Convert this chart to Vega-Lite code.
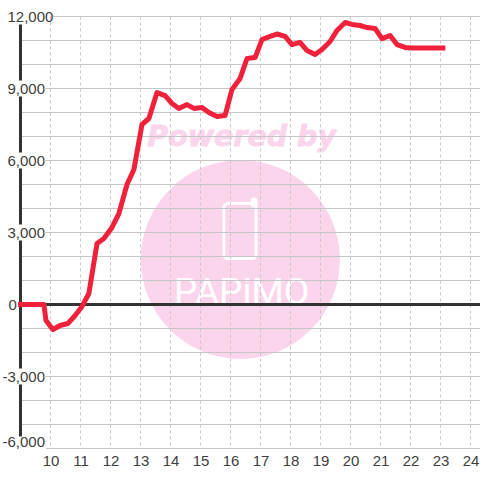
{"$schema":"https://vega.github.io/schema/vega-lite/v6.json","width":460,"height":432,"autosize":"none","padding":{"left":20.5,"top":16.5,"right":0,"bottom":31},"background":"white","config":{"view":{"stroke":null},"axis":{"labelOverlap":false}},"datasets":{"profit":[{"h":9.0,"v":0},{"h":9.78,"v":0},{"h":9.85,"v":-667},{"h":10.08,"v":-1040},{"h":10.32,"v":-875},{"h":10.58,"v":-790},{"h":10.82,"v":-460},{"h":11.05,"v":-80},{"h":11.28,"v":460},{"h":11.55,"v":2540},{"h":11.78,"v":2750},{"h":12.05,"v":3210},{"h":12.28,"v":3790},{"h":12.55,"v":5000},{"h":12.78,"v":5625},{"h":13.05,"v":7500},{"h":13.28,"v":7750},{"h":13.55,"v":8830},{"h":13.82,"v":8700},{"h":14.05,"v":8375},{"h":14.28,"v":8170},{"h":14.55,"v":8330},{"h":14.78,"v":8170},{"h":15.05,"v":8210},{"h":15.28,"v":8000},{"h":15.55,"v":7830},{"h":15.82,"v":7875},{"h":16.05,"v":8960},{"h":16.32,"v":9420},{"h":16.55,"v":10250},{"h":16.82,"v":10290},{"h":17.05,"v":11040},{"h":17.32,"v":11170},{"h":17.55,"v":11270},{"h":17.82,"v":11170},{"h":18.05,"v":10830},{"h":18.32,"v":10920},{"h":18.55,"v":10580},{"h":18.82,"v":10420},{"h":19.05,"v":10625},{"h":19.32,"v":10960},{"h":19.55,"v":11420},{"h":19.82,"v":11750},{"h":20.05,"v":11670},{"h":20.32,"v":11625},{"h":20.55,"v":11540},{"h":20.82,"v":11500},{"h":21.05,"v":11080},{"h":21.32,"v":11210},{"h":21.55,"v":10830},{"h":21.82,"v":10710},{"h":22.05,"v":10690},{"h":23.08,"v":10690}],"hgrid":[{"v":12000,"from":10.08},{"v":11000,"from":9},{"v":10000,"from":9},{"v":9000,"from":9.78},{"v":8000,"from":9},{"v":7000,"from":9},{"v":6000,"from":9.78},{"v":5000,"from":9},{"v":4000,"from":9},{"v":3000,"from":9.78},{"v":2000,"from":9},{"v":1000,"from":9},{"v":-1000,"from":9},{"v":-2000,"from":9},{"v":-3000,"from":9.78},{"v":-4000,"from":9},{"v":-5000,"from":9},{"v":-6000,"from":9.85}],"vgrid":[{"h":10},{"h":11},{"h":12},{"h":13},{"h":14},{"h":15},{"h":16},{"h":17},{"h":18},{"h":19},{"h":20},{"h":21},{"h":22},{"h":23},{"h":24}],"spine":[{"a":11667,"b":9333},{"a":8667,"b":6333},{"a":5667,"b":3333},{"a":2667,"b":-2667},{"a":-3333,"b":-5500}],"circle":[{"h":16.33,"v":1875}],"phone":[{"a":15.78,"b":16.85,"c":4208,"d":1917,"f":"none"},{"a":16.72,"b":16.85,"c":4400,"d":4100,"f":"white"}],"brand":[{"h":16.37,"v":40,"t":"PAPiMO"}],"powered":[{"h":16.37,"v":6625,"t":"Powered by"}],"zero":[{"v":0}]},"layer":[{"data":{"name":"circle"},"mark":{"type":"point","filled":true,"shape":"circle","color":"#fbd5ec","opacity":1,"clip":false},"encoding":{"x":{"field":"h","type":"quantitative","scale":{"domain":[9,24.3333],"nice":false,"zero":false},"axis":{"title":null,"values":[10,11,12,13,14,15,16,17,18,19,20,21,22,23,24],"tickCount":15,"grid":false,"domain":false,"ticks":false,"labelFont":"Liberation Sans","labelFontSize":15,"labelColor":"#404040","labelPadding":5,"labelOverlap":false,"labelSeparation":0,"labelFlush":false,"labelBound":false,"labelExpr":"format(datum.value,'d')"}},"y":{"field":"v","type":"quantitative","scale":{"domain":[-6000,12000],"nice":false,"zero":false},"axis":{"title":null,"values":[-6000,-3000,0,3000,6000,9000,12000],"grid":false,"domain":false,"ticks":false,"labelFont":"Liberation Sans","labelFontSize":15,"labelColor":"#404040","labelAlign":"left","labelBaseline":"middle","labelPadding":13.5,"labelOverlap":false,"labelFlush":false,"labelBound":false,"labelExpr":"replace(format(datum.value,','),'−','-')","encoding":{"labels":{"dx":{"value":{"expr":"datum.value<0?-5:(datum.value==0?1:0)"}},"dy":{"value":{"expr":"datum.value==-6000?-7:0"}}}}}},"size":{"value":39600}}},{"data":{"name":"phone"},"mark":{"type":"rect","stroke":"white","strokeWidth":3,"cornerRadius":4},"encoding":{"x":{"field":"a","type":"quantitative"},"x2":{"field":"b"},"y":{"field":"c","type":"quantitative"},"y2":{"field":"d"},"fill":{"field":"f","type":"nominal","scale":null}}},{"data":{"name":"brand"},"mark":{"type":"text","font":"Roboto","fontWeight":400,"fontSize":37,"color":"white","align":"center","baseline":"alphabetic"},"encoding":{"x":{"field":"h","type":"quantitative"},"y":{"field":"v","type":"quantitative"},"text":{"field":"t"}}},{"data":{"name":"powered"},"mark":{"type":"text","font":"DejaVu Sans","fontWeight":"bold","fontStyle":"italic","fontSize":28.5,"color":"#fbd5ec","stroke":"#fbd5ec","strokeWidth":0.8,"align":"center","baseline":"alphabetic"},"encoding":{"x":{"field":"h","type":"quantitative"},"y":{"field":"v","type":"quantitative"},"text":{"field":"t"}}},{"data":{"name":"vgrid"},"mark":{"type":"rule","color":"#c6c6c6","strokeWidth":1,"strokeDash":[3,3]},"encoding":{"x":{"field":"h","type":"quantitative"},"y":{"datum":12000,"type":"quantitative"},"y2":{"datum":-6000}}},{"data":{"name":"hgrid"},"mark":{"type":"rule","color":"#c6c6c6","strokeWidth":1},"encoding":{"x":{"field":"from","type":"quantitative"},"x2":{"datum":24.3333},"y":{"field":"v","type":"quantitative"}}},{"data":{"name":"spine"},"mark":{"type":"rule","color":"#333333","strokeWidth":3},"encoding":{"x":{"datum":9,"type":"quantitative"},"y":{"field":"a","type":"quantitative"},"y2":{"field":"b"}}},{"data":{"name":"zero"},"mark":{"type":"rule","color":"#333333","strokeWidth":3},"encoding":{"x":{"datum":9,"type":"quantitative"},"x2":{"datum":24.3333},"y":{"field":"v","type":"quantitative"}}},{"data":{"name":"profit"},"mark":{"type":"line","color":"#f0213a","strokeWidth":5,"strokeJoin":"round","strokeCap":"square","interpolate":"linear"},"encoding":{"x":{"field":"h","type":"quantitative"},"y":{"field":"v","type":"quantitative"}}}]}
